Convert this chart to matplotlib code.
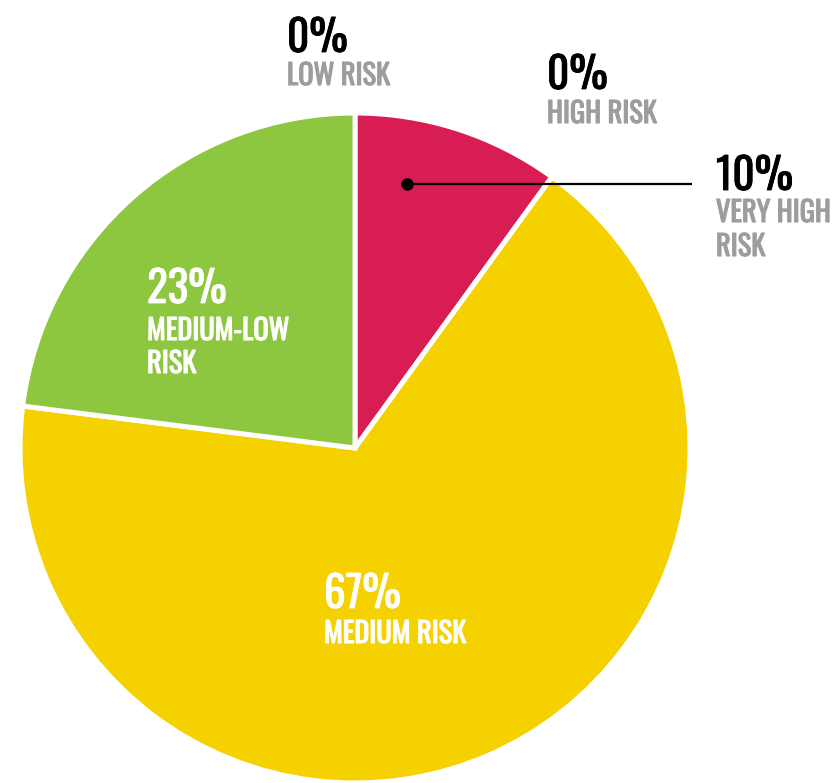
import matplotlib
matplotlib.use("Agg")
import matplotlib.pyplot as plt
import matplotlib.patheffects as pe
from matplotlib.font_manager import FontProperties
from matplotlib.textpath import TextPath

categories = ["VERY HIGH\nRISK", "MEDIUM RISK", "MEDIUM-LOW\nRISK", "LOW RISK", "HIGH RISK"]
values = [10, 67, 23, 0, 0]
pct_labels = ["10%", "67%", "23%", "0%", "0%"]
colors = ["#D81D55", "#F5D100", "#8DC63F", "#8DC63F", "#D81D55"]

W, H = 833, 783
fig = plt.figure(figsize=(W / 100, H / 100), dpi=100)
ax = fig.add_axes([0, 0, 1, 1])

cx, cy, r = 355, H - 448, 335
nz = [(v, c) for v, c in zip(values, colors) if v > 0]
ax.pie([v for v, _ in nz], colors=[c for _, c in nz], startangle=90, counterclock=False,
       center=(cx, cy), radius=r,
       wedgeprops=dict(edgecolor="white", linewidth=3.6, joinstyle="miter"))
ax.set_xlim(0, W)
ax.set_ylim(0, H)
ax.set_aspect("equal")
ax.axis("off")

fam = ["Oswald", "Fira Sans Extra Condensed", "DejaVu Sans"]
weight = "bold"
fp = FontProperties(family=fam, weight=weight)
cap = TextPath((0, 0), "H", size=100, prop=fp).get_extents().height / 100.0
num_fs = 35 / cap * 72 / 100
lab_fs = 23 / cap * 72 / 100
gray = "#9D9D9F"

def put(x, ybase, s, size, color, stroke):
    ax.text(x, H - ybase, s, fontsize=size, color=color, fontweight=weight,
            family=fam, ha="left", va="baseline",
            path_effects=[pe.withStroke(linewidth=stroke, foreground=color)])

layout = {
    "VERY HIGH\nRISK": (716, 190, [222, 256], "#000000", gray),
    "MEDIUM RISK": (324, 608, [643], "white", "white"),
    "MEDIUM-LOW\nRISK": (147, 303, [340, 373], "white", "white"),
    "LOW RISK": (287, 52, [85], "#000000", gray),
    "HIGH RISK": (547, 89, [123], "#000000", gray),
}
for cat, pl in zip(categories, pct_labels):
    x, nb, lbs, nc, lc = layout[cat]
    put(x, nb, pl, num_fs, nc, 0.6)
    for line, lb in zip(cat.split("\n"), lbs):
        put(x, lb, line, lab_fs, lc, 0.8)

ax.plot([407, 692], [H - 184, H - 184], color="black", lw=1.6, solid_capstyle="butt")
ax.plot([407], [H - 184], "o", color="black", markersize=8)

fig.savefig("out.png", dpi=100)
